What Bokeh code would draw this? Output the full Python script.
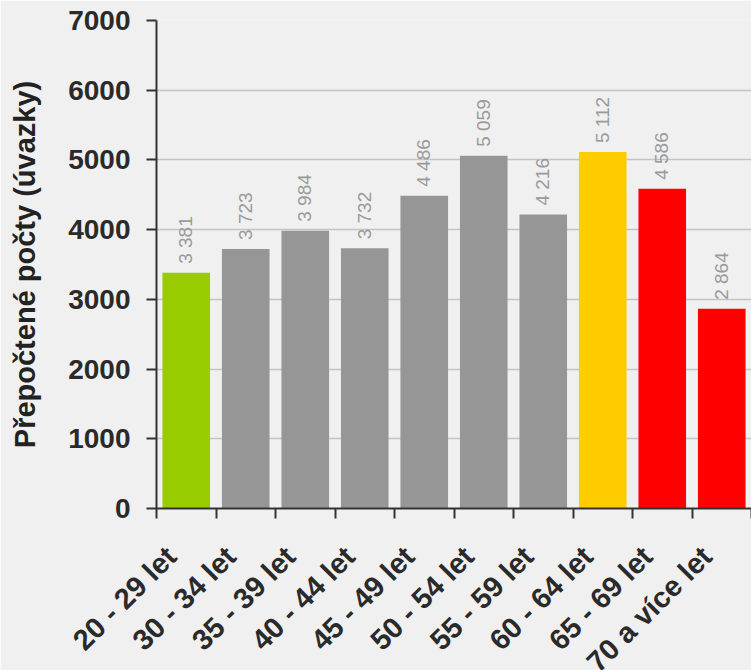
import math
import numpy as np
from bokeh.plotting import figure
from bokeh.models import ColumnDataSource, FixedTicker, Range1d
from bokeh.core.properties import value
from bokeh.embed import file_html
from bokeh.resources import INLINE

categories = ["20 - 29 let", "30 - 34 let", "35 - 39 let", "40 - 44 let", "45 - 49 let",
              "50 - 54 let", "55 - 59 let", "60 - 64 let", "65 - 69 let", "70 a více let"]
values = [3381, 3723, 3984, 3732, 4486, 5059, 4216, 5112, 4586, 2864]
bar_colors = ["#99cc00", "#969696", "#969696", "#969696", "#969696",
              "#969696", "#969696", "#ffcc00", "#ff0000", "#ff0000"]
y_ticks = [0, 1000, 2000, 3000, 4000, 5000, 6000, 7000]
y_title = "Přepočtené počty (úvazky)"

BG = "#f0f0f0"
FONT = "Liberation Sans"

x = np.arange(len(categories)) + 0.5
src = ColumnDataSource(dict(
    x=x, top=values, color=bar_colors,
    label=[f"{v:,}".replace(",", " ") for v in values],
))

p = figure(width=751, height=692, output_backend="svg", toolbar_location=None,
           x_range=Range1d(0, len(categories)), y_range=Range1d(0, 7000),
           min_border_left=156, min_border_right=0, min_border_top=20, min_border_bottom=150)
p.background_fill_color = BG
p.border_fill_color = BG
p.outline_line_color = None

p.vbar(x="x", top="top", bottom=0, width=0.8, color="color", line_color=None, source=src)
p.text(x="x", y="top", text="label", source=src, angle=math.pi / 2,
       x_offset=10, y_offset=-9, text_align="left",
       text_color="#9a9a9a", text_font=value(FONT), text_font_size="19px")

# y axis
p.yaxis.ticker = FixedTicker(ticks=y_ticks)
p.yaxis.axis_label = y_title
p.yaxis.axis_label_text_font = FONT
p.yaxis.axis_label_text_font_style = "bold"
p.yaxis.axis_label_text_font_size = "29px"
p.yaxis.axis_label_text_color = "#222222"
p.yaxis.axis_label_standoff = 24
p.yaxis.major_label_text_font = FONT
p.yaxis.major_label_text_font_style = "bold"
p.yaxis.major_label_text_font_size = "28px"
p.yaxis.major_label_text_color = "#2a2a2a"
p.yaxis.major_label_standoff = 16
p.yaxis.axis_line_color = "#333333"
p.yaxis.axis_line_width = 2
p.yaxis.major_tick_line_color = "#333333"
p.yaxis.major_tick_line_width = 2
p.yaxis.major_tick_in = 0
p.yaxis.major_tick_out = 10
p.yaxis.minor_tick_line_color = None

# x axis: labels slightly left of the category centre, boundary ticks as minor ticks
label_pos = [float(xi - 0.25) for xi in x]
p.xaxis.ticker = FixedTicker(ticks=label_pos, minor_ticks=list(range(len(categories) + 1)))
p.xaxis.major_label_overrides = {lp: c for lp, c in zip(label_pos, categories)}
p.xaxis.major_label_orientation = math.pi / 4
p.xaxis.major_label_text_font = FONT
p.xaxis.major_label_text_font_style = "bold"
p.xaxis.major_label_text_font_size = "29px"
p.xaxis.major_label_text_color = "#2a2a2a"
p.xaxis.major_label_standoff = 33
p.xaxis.major_tick_line_color = None
p.xaxis.minor_tick_line_color = "#333333"
p.xaxis.minor_tick_line_width = 2
p.xaxis.minor_tick_in = 0
p.xaxis.minor_tick_out = 10
p.xaxis.axis_line_color = "#333333"
p.xaxis.axis_line_width = 2

p.xgrid.grid_line_color = None
p.ygrid.grid_line_color = "#c4c4c4"
p.ygrid.grid_line_width = 1.5

open("out.html", "w").write(file_html(p, INLINE))
